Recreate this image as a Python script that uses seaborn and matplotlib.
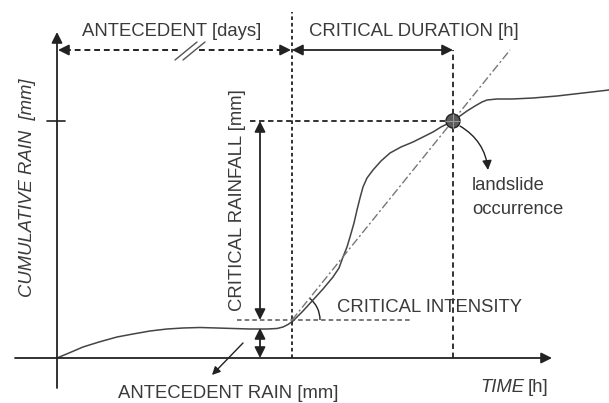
import numpy as np
import pandas as pd
import matplotlib.pyplot as plt
import seaborn as sns
from matplotlib.patches import Arc, Circle

# Cumulative rain curve (time units ~ arbitrary, rain in arbitrary mm units)
curve_time = [0, 12, 26, 42, 60, 76, 93, 110, 126, 143, 160, 176, 193, 210, 220,
              226, 231, 236, 246, 256, 266, 276, 282, 286, 290, 293, 297, 300, 303,
              306, 310, 316, 324, 333, 344, 356, 366, 376, 384, 390, 396,
              403, 410, 418, 425, 430, 440, 455, 476, 500, 526, 552]
curve_rain = [0, 5, 11, 16, 21, 24, 27, 29, 30, 30.5, 30, 29.5, 29, 29, 29.5,
              31, 33.5, 37, 47, 58, 69, 81, 90, 101, 111, 121, 135, 148, 160,
              171, 180, 188, 197, 205, 211, 216, 221, 226, 231, 234, 237,
              242, 247, 252, 256, 258, 259, 259, 260, 262, 265, 268]

# key events of the scheme
t_start = 0            # beginning of antecedent period
t_critical = 235       # start of critical rainfall
t_landslide = 396      # landslide occurrence
rain_critical_start = 38
rain_landslide = 237
rain_antecedent = 30
t_rain_arrow = 203

lbl_antecedent = "ANTECEDENT [days]"
lbl_duration = "CRITICAL DURATION [h]"
lbl_yaxis = "CUMULATIVE RAIN  [mm]"
lbl_crit_rain = "CRITICAL RAINFALL [mm]"
lbl_intensity = "CRITICAL INTENSITY"
lbl_landslide = ["landslide", "occurrence"]
lbl_ante_rain = "ANTECEDENT RAIN [mm]"
lbl_time = ["TIME", "[h]"]

sns.set_style("white")
plt.rcParams['font.family'] = ['Liberation Sans', 'DejaVu Sans']

INK = "#222222"
TXT = "#3a3a3a"
FS = 13.3

fig = plt.figure(figsize=(6.09, 4.03), dpi=100)
ax = fig.add_axes([0, 0, 1, 1])
ax.set_xlim(-57, 552)
ax.set_ylim(-45, 358)
ax.axis("off")

df = pd.DataFrame({"time": curve_time, "rain": curve_rain})
sns.lineplot(data=df, x="time", y="rain", sort=False, color="#444444", lw=1.1, ax=ax)

head = dict(arrowstyle="-|>", color=INK, lw=1.3, mutation_scale=16, shrinkA=0, shrinkB=0)
head2 = dict(arrowstyle="<|-|>", color=INK, lw=1.3, mutation_scale=16, shrinkA=0, shrinkB=0)

# axes
ax.annotate("", xy=(495, 0), xytext=(-42, 0), arrowprops=head)
ax.annotate("", xy=(t_start, 326), xytext=(t_start, -30), arrowprops=head)
ax.plot([-10, 8], [rain_landslide, rain_landslide], color=INK, lw=1.2)

# vertical reference lines
ax.plot([t_critical, t_critical], [0, 346], color=INK, lw=1.3, ls=(0, (2, 1.6)))
ax.plot([t_landslide, t_landslide], [0, 308], color=INK, lw=1.3, ls=(0, (3, 2)))

# horizontal reference lines
ax.plot([193, t_landslide], [rain_landslide, rain_landslide], color=INK, lw=1.3, ls=(0, (3, 2)))
ax.plot([180, 353], [rain_critical_start, rain_critical_start], color="#555555", lw=1.1, ls=(0, (3, 2)))

# critical intensity line
ax.plot([t_critical, 453], [rain_critical_start, 308], color="#777777", lw=1.0, ls=(0, (6, 2, 1.5, 2)))
ax.add_patch(Arc((t_critical, rain_critical_start), 56, 56, theta1=0, theta2=51, color=INK, lw=1.0))

# top arrows
y_top = 308
ax.plot([t_start + 8, 122], [y_top, y_top], color=INK, lw=1.4, ls=(0, (3, 2)))
ax.plot([142, t_critical - 8], [y_top, y_top], color=INK, lw=1.4, ls=(0, (3, 2)))
ax.annotate("", xy=(t_start + 1, y_top), xytext=(t_start + 12, y_top), arrowprops=head)
ax.annotate("", xy=(t_critical - 1, y_top), xytext=(t_critical - 12, y_top), arrowprops=head)
for dx in (0, 8):
    ax.plot([118 + dx, 140 + dx], [298, 316], color="#555555", lw=1.0)
ax.annotate("", xy=(t_critical, y_top), xytext=(t_landslide, y_top), arrowprops=head2)

# critical rainfall and antecedent rain arrows
ax.annotate("", xy=(t_rain_arrow, rain_critical_start), xytext=(t_rain_arrow, rain_landslide),
            arrowprops=head2)
ax.annotate("", xy=(t_rain_arrow, 0), xytext=(t_rain_arrow, rain_antecedent), arrowprops=head2)
ax.annotate("", xy=(155, -17), xytext=(186, 15),
            arrowprops=dict(arrowstyle="-|>", color=INK, lw=1.0, mutation_scale=12, shrinkA=0, shrinkB=0))

# landslide marker
ax.add_patch(Circle((t_landslide, rain_landslide), 7, facecolor="#5a5a5a", edgecolor=INK, lw=1.0, zorder=4))
ax.plot([t_landslide - 7, t_landslide + 7], [rain_landslide, rain_landslide], color="#999999", lw=0.8, zorder=5)
ax.plot([t_landslide, t_landslide], [rain_landslide - 7, rain_landslide + 7], color="#999999", lw=0.8, zorder=5)
ax.annotate("", xy=(431, 188), xytext=(403, 232),
            arrowprops=dict(arrowstyle="-|>", color=INK, lw=1.0, mutation_scale=14,
                            shrinkA=0, shrinkB=0, connectionstyle="arc3,rad=-0.25"))

# texts
ax.text(115, 326, lbl_antecedent, ha="center", va="center", fontsize=FS, color=TXT)
ax.text(357, 327, lbl_duration, ha="center", va="center", fontsize=FS, color=TXT)
ax.text(-29, 170, lbl_yaxis, ha="center", va="center", rotation=90, fontsize=FS,
        color=TXT, style="italic")
ax.text(181, 158, lbl_crit_rain, ha="center", va="center", rotation=90, fontsize=FS, color=TXT)
ax.text(280, 50, lbl_intensity, ha="left", va="center", fontsize=FS, color=TXT)
ax.text(415, 172, lbl_landslide[0], ha="left", va="center", fontsize=FS, color=TXT)
ax.text(415, 148, lbl_landslide[1], ha="left", va="center", fontsize=FS, color=TXT)
ax.text(171, -35, lbl_ante_rain, ha="center", va="center", fontsize=FS, color=TXT)
ax.text(423, -30, lbl_time[0], ha="left", va="center", fontsize=FS, color=TXT, style="italic")
ax.text(471, -30, lbl_time[1], ha="left", va="center", fontsize=FS, color=TXT)

fig.savefig("out.png", dpi=100)
